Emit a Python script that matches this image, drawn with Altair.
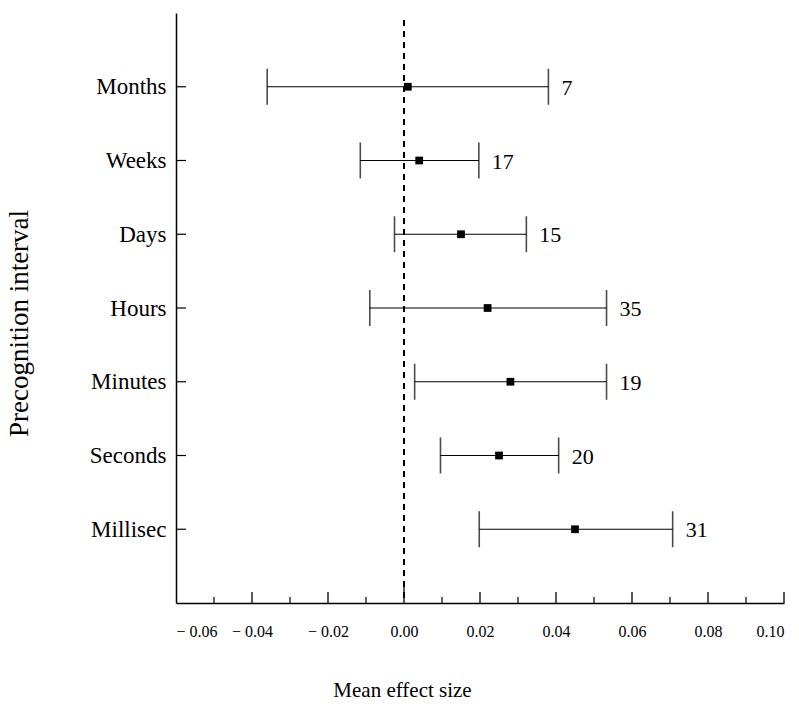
import altair as alt
import pandas as pd

intervals = ["Months", "Weeks", "Days", "Hours", "Minutes", "Seconds", "Millisec"]
means = [0.001, 0.004, 0.015, 0.022, 0.028, 0.025, 0.045]
lows = [-0.036, -0.0115, -0.0025, -0.009, 0.0028, 0.0096, 0.0198]
highs = [0.038, 0.0197, 0.0322, 0.0533, 0.0533, 0.0407, 0.0707]
ns = [7, 17, 15, 35, 19, 20, 31]

x_tick_values = [-0.06, -0.04, -0.02, 0.0, 0.02, 0.04, 0.06, 0.08, 0.10]
major_ticks = [-0.04, -0.02, 0.02, 0.04, 0.06, 0.08, 0.10]
minor_ticks = [-0.05, -0.03, -0.01, 0.01, 0.03, 0.05, 0.07, 0.09]
zero_line = [0.0]

W, H = 608, 590
FONT = "Liberation Serif"

df = pd.DataFrame({"interval": intervals, "mean": means, "lo": lows, "hi": highs, "n": ns})

x_scale = alt.Scale(domain=[-0.06, 0.10], nice=False, zero=False)
x_axis = alt.Axis(
    values=x_tick_values,
    ticks=False, grid=False, domain=True, domainColor="black", domainWidth=1.5,
    labelFont=FONT, labelFontSize=16, labelColor="black", labelPadding=20,
    labelExpr="(datum.value < -0.0001 ? '\u2212 ' : '') + format(abs(datum.value), '.2f')",
    title="Mean effect size", titleFont=FONT, titleFontSize=21, titleFontWeight="normal",
    titleColor="black", titleX=226, titleY=93, titleAlign="center", titleBaseline="alphabetic",
)
y_scale = alt.Scale(type="point", domain=intervals, padding=1)
y_axis = alt.Axis(
    ticks=False, grid=False, domain=True, domainColor="black", domainWidth=1.5,
    labelFont=FONT, labelFontSize=23, labelColor="black", labelPadding=10,
    title="Precognition interval", titleFont=FONT, titleFontSize=27, titleFontWeight="normal",
    titleColor="black", titleX=-157, titleY=310, titleAngle=-90, titleAlign="center",
    titleBaseline="middle",
)

Y = alt.Y("interval:N", scale=y_scale, axis=y_axis, sort=intervals)

def X(field):
    return alt.X(f"{field}:Q", scale=x_scale, axis=x_axis)

base = alt.Chart(df)

bars = base.mark_rule(color="black", strokeWidth=1.2).encode(x=X("lo"), x2="hi", y=Y)
cap_lo = base.mark_tick(color="black", size=36, thickness=1.6, orient="vertical").encode(x=X("lo"), y=Y)
cap_hi = base.mark_tick(color="black", size=36, thickness=1.6, orient="vertical").encode(x=X("hi"), y=Y)
pts = base.mark_square(color="black", size=60, opacity=1, filled=True).encode(x=X("mean"), y=Y)
labels = base.mark_text(align="left", baseline="middle", dx=13, dy=1, font=FONT, fontSize=22,
                        color="black").encode(x=X("hi"), y=Y, text="n:Q")
ytick = base.mark_rule(color="black", strokeWidth=1.2).encode(
    y=Y, x=alt.value(0), x2=alt.value(10))

zero_df = pd.DataFrame({"v": zero_line})
zero = alt.Chart(zero_df).mark_rule(color="black", strokeWidth=2, strokeDash=[6, 5]).encode(
    x=X("v"), y=alt.value(7), y2=alt.value(H))

maj_df = pd.DataFrame({"v": major_ticks})
maj = alt.Chart(maj_df).mark_rule(color="black", strokeWidth=1.3).encode(
    x=X("v"), y=alt.value(H), y2=alt.value(H - 11))
min_df = pd.DataFrame({"v": minor_ticks})
mnr = alt.Chart(min_df).mark_rule(color="black", strokeWidth=1.2).encode(
    x=X("v"), y=alt.value(H), y2=alt.value(H - 6))
z_df = pd.DataFrame({"v": zero_line})
ztk = alt.Chart(z_df).mark_rule(color="black", strokeWidth=1.3).encode(
    x=X("v"), y=alt.value(H), y2=alt.value(H - 17))

chart = alt.layer(bars, cap_lo, cap_hi, pts, labels, ytick, zero, maj, mnr, ztk).properties(
    width=W, height=H,
    autosize=alt.AutoSizeParams(type="none"),
    padding={"left": 176, "top": 13, "right": 15, "bottom": 109},
    background="white",
).configure_view(stroke=None)

chart.save("out.html", embed_options={"renderer": "svg", "actions": False})
